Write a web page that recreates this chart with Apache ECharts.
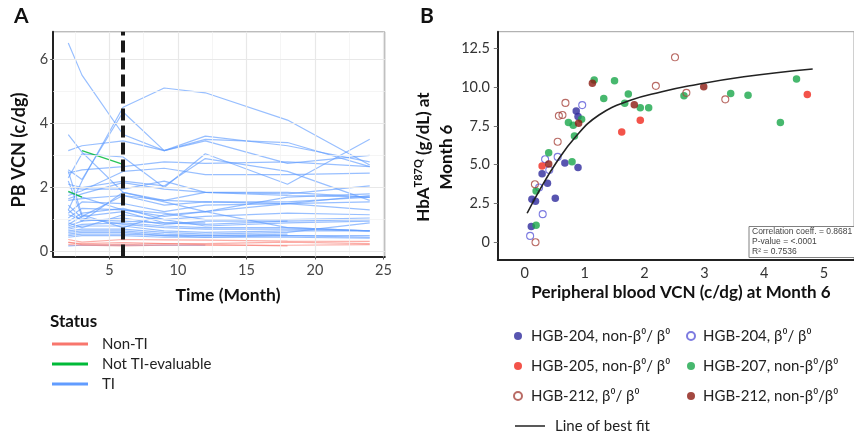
<!DOCTYPE html>
<html><head><meta charset="utf-8">
<script src="https://cdn.jsdelivr.net/npm/echarts@6/dist/echarts.min.js"></script>
<style>html,body{margin:0;padding:0;background:#fff}#c{width:854px;height:435px}</style>
</head><body><div id="c"></div>
<script>
// ---------- Panel A data ----------
const months = [2, 3, 6, 9, 12, 18, 24];
const tiLines = [
  [6.5, 5.5, 3.65, 3.15, 3.5, 3.4, 2.65],
  [1.3, 2.2, 4.5, 5.1, 4.95, 4.1, 2.7],
  [3.15, 3.3, 3.45, 3.15, 3.6, 3.3, 2.8],
  [3.65, 3.1, 1.85, 1.6, 1.85, 1.85, 1.7],
  [2.55, 2.25, 4.35, 3.15, 3.45, 2.75, 3.0],
  [2.45, 2.55, 2.65, 2.8, 2.75, 2.8, 2.65],
  [2.3, 3.05, 2.95, 2.0, 3.05, 2.1, 3.5],
  [2.1, 2.0, 2.2, 2.05, 2.9, 2.5, 1.6],
  [1.75, 1.9, 2.5, 2.6, 2.4, 2.4, 2.45],
  [1.65, 1.8, 2.15, 1.95, 1.85, 1.8, 2.05],
  [2.0, 1.95, 1.95, 2.2, 1.85, 1.75, 1.7],
  [1.6, 1.65, 1.75, 1.45, 1.55, 1.5, 1.3],
  [1.2, 1.55, 1.5, 1.25, 1.45, 1.5, 1.75],
  [1.05, 1.35, 1.3, 1.1, 1.25, 1.7, 1.8],
  [0.95, 1.2, 1.35, 1.0, 1.1, 1.2, 1.15],
  [0.85, 1.1, 1.25, 0.9, 0.85, 0.95, 1.0],
  [0.8, 0.95, 1.05, 0.85, 0.95, 0.95, null],
  [0.75, 0.85, 0.9, 0.8, 0.75, 0.75, 0.65],
  [0.7, 0.8, 0.8, 0.65, 0.6, 0.65, 0.65],
  [0.65, 0.7, 0.7, 0.6, 0.55, 0.6, 0.9],
  [0.6, 0.65, 0.65, 0.55, 0.5, 0.5, 0.5],
  [0.55, 0.6, 0.6, 0.5, 0.5, 0.55, null],
  [0.5, 0.55, 0.55, 0.5, 0.45, 0.45, 0.42],
  [1.15, 1.0, 0.95, 0.9, 0.9, null, null],
  [0.45, 0.5, 0.5, 0.45, 0.45, 0.5, 0.45],
  [0.18, 0.2, 0.2, 0.2, 0.2, null, null],
  [1.45, 1.05, 0.85, 0.75, 0.7, 0.7, 0.65],
  [2.5, 1.15, 0.75, 1.15, 1.25, 0.75, 0.65],
  [1.3, 0.95, 1.85, 1.55, 1.25, 1.5, 1.55],
  [2.2, 1.1, 1.75, 1.6, 1.55, 1.55, 1.7],
  [0.9, 0.75, 1.15, 1.0, 0.8, 0.9, 0.95],
  [1.85, 1.7, 1.3, 1.2, 1.0, 1.0, 1.05]
];
const notEvalLines = [
  [null, 3.15, 2.72, null, null, null, null],
  [1.88, 1.70, null, null, null, null, null]
];
const nonTiLines = [
  [0.38, 0.3, 0.38, 0.37, 0.36, 0.33, 0.32],
  [0.22, 0.2, 0.18, 0.2, 0.2, 0.2, 0.22],
  [0.28, 0.25, 0.28, 0.25, 0.25, 0.3, 0.25],
  [0.3, 0.22, 0.22, 0.25, 0.22, 0.18, null]
];
const statusNames = ['Non-TI', 'Not TI-evaluable', 'TI'];
const decisionMonth = 6;
const aXTicks = [5, 10, 15, 20, 25];
const aYTicks = [0, 2, 4, 6];
const aXMinor = [2.5, 7.5, 12.5, 17.5, 22.5];
const aYMinor = [1, 3, 5];

// ---------- Panel B data ----------
const bXTicks = [0, 1, 2, 3, 4, 5];
const bYTicks = [0, 2.5, 5, 7.5, 10, 12.5];
const groupNames = [
  'HGB-204, non-β⁰/ β⁰', 'HGB-204, β⁰/ β⁰',
  'HGB-205, non-β⁰/ β⁰', 'HGB-207, non-β⁰/β⁰',
  'HGB-212, β⁰/ β⁰', 'HGB-212, non-β⁰/β⁰'
];
const hgb204Non = [[0.11,1.01],[0.12,2.77],[0.18,2.64],[0.29,4.42],[0.38,3.80],[0.51,2.83],[0.67,5.11],[0.86,8.46],[0.89,8.10],[0.89,4.81]];
const hgb204B0 = [[0.09,0.41],[0.30,1.81],[0.24,3.53],[0.34,5.35],[0.41,4.66],[0.55,5.50],[0.96,8.84]];
const hgb205Non = [[0.29,4.91],[1.62,7.11],[1.93,7.87],[4.72,9.52]];
const hgb207Non = [[0.19,1.09],[0.19,3.31],[0.40,5.77],[0.79,5.19],[0.73,7.72],[0.81,7.54],[0.83,6.84],[0.95,7.92],[1.16,10.46],[1.32,9.27],[1.50,10.41],[1.67,8.96],[1.73,9.55],[1.93,8.67],[2.07,8.67],[2.66,9.45],[3.44,9.59],[3.73,9.48],[4.27,7.72],[4.54,10.52]];
const hgb212B0 = [[0.18,0.0],[0.17,3.74],[0.55,6.48],[0.57,8.15],[0.63,8.2],[0.68,8.98],[2.19,10.08],[2.51,11.92],[2.70,9.63],[3.35,9.21]];
const hgb212Non = [[0.40,5.04],[0.90,7.67],[1.13,10.24],[1.83,8.87],[2.99,10.03]];
const fitLine = [[0.04,1.87],[0.25,3.37],[0.52,5.09],[0.85,6.8],[1.24,8.2],[1.74,9.12],[2.29,9.7],[2.73,10.07],[3.66,10.67],[4.81,11.17]];
const fitName = 'Line of best fit';
const statsText = ['Correlation coeff. = 0.8681', 'P-value = <.0001', 'R² = 0.7536'];

// ---------- build ----------
const FONT = 'Lato, "Open Sans", sans-serif';
const chart = echarts.init(document.getElementById('c'), null, {renderer: 'canvas'});
const toPts = vals => months.map((m, i) => [m, vals[i]]);
const series = [];

series.push({
  type: 'line', xAxisIndex: 0, yAxisIndex: 0, data: [], z: 1, silent: true,
  markLine: {
    silent: true, symbol: ['none', 'none'], label: {show: false}, animation: false,
    data: [
      ...aXMinor.map(v => ({xAxis: v, lineStyle: {color: '#f3f3f3', width: 0.8, type: 'solid'}})),
      ...aYMinor.map(v => ({yAxis: v, lineStyle: {color: '#f3f3f3', width: 0.8, type: 'solid'}})),
      ...aXTicks.map(v => ({xAxis: v, lineStyle: {color: '#e8e8e8', width: 1.2, type: 'solid'}})),
      ...aYTicks.map(v => ({yAxis: v, lineStyle: {color: '#e8e8e8', width: 1.2, type: 'solid'}}))
    ]
  }
});
const lineBase = (name, color, vals, op) => ({
  name, type: 'line', xAxisIndex: 0, yAxisIndex: 0, data: toPts(vals),
  symbol: 'none', color, z: 2, silent: true,
  lineStyle: {width: 1.2, color, opacity: op}
});
tiLines.forEach(v => series.push(lineBase(statusNames[2], '#619CFF', v, 0.65)));
notEvalLines.forEach(v => series.push(lineBase(statusNames[1], '#00BA38', v, 0.85)));
nonTiLines.forEach(v => series.push(lineBase(statusNames[0], '#F8766D', v, 0.6)));
series.push({
  type: 'line', xAxisIndex: 0, yAxisIndex: 0, data: [], z: 5, silent: true,
  markLine: {
    silent: true, symbol: ['none', 'none'], label: {show: false}, animation: false,
    lineStyle: {color: '#1a1a1a', width: 4, type: [12, 5]},
    data: [{xAxis: decisionMonth}]
  }
});

const bColors = ['#2e2a9c', '#5c5ad8', '#f0281d', '#19a64a', '#a7463e', '#8c1a12'];
const bOpen = [false, true, false, false, true, false];
const bData = [hgb204Non, hgb204B0, hgb205Non, hgb207Non, hgb212B0, hgb212Non];
bData.forEach((d, i) => {
  series.push({
    name: groupNames[i], type: 'scatter', xAxisIndex: 1, yAxisIndex: 1, data: d,
    symbol: 'circle', symbolSize: bOpen[i] ? 7 : 7.5, z: 3,
    itemStyle: bOpen[i]
      ? {color: 'rgba(255,255,255,0)', borderColor: bColors[i], borderWidth: 1.1}
      : {color: bColors[i]}
  });
});
series.push({
  name: fitName, type: 'line', xAxisIndex: 1, yAxisIndex: 1, data: fitLine, smooth: 0.45,
  symbol: 'none', color: '#222', z: 4, lineStyle: {width: 1.6, color: '#222'}
});

const tickLabel = {fontSize: 14.5, color: '#444', fontFamily: FONT};
const legendText = pad => ({fontSize: 15, lineHeight: 18, color: '#222', fontFamily: FONT, padding: [0, 0, 0, pad]});
const option = {
  animation: false,
  backgroundColor: '#fff',
  grid: [
    {left: 53.2, top: 31.8, width: 331.6, height: 224.7, show: true, borderColor: '#a0a0a0', borderWidth: 1, backgroundColor: '#fff'},
    {left: 497.8, top: 31.7, width: 360, height: 228.4, show: true, borderColor: '#a0a0a0', borderWidth: 1}
  ],
  xAxis: [
    {gridIndex: 0, type: 'value', min: 0.9, max: 25.1,
     axisLine: {show: true, onZero: false, lineStyle: {color: '#222', width: 2}},
     axisTick: {show: true, length: 3, customValues: aXTicks, lineStyle: {color: '#555'}},
     axisLabel: Object.assign({customValues: aXTicks, margin: 6}, tickLabel),
     splitLine: {show: false}},
    {gridIndex: 1, type: 'value', min: -0.45, max: 5.5,
     axisLine: {show: true, onZero: false, lineStyle: {color: '#222', width: 2}},
     axisTick: {show: false, customValues: bXTicks},
     axisLabel: Object.assign({customValues: bXTicks, margin: 6}, tickLabel, {color: '#333'}),
     splitLine: {show: false}}
  ],
  yAxis: [
    {gridIndex: 0, type: 'value', min: -0.15, max: 6.85,
     axisLine: {show: true, onZero: false, lineStyle: {color: '#222', width: 2}},
     axisTick: {show: true, length: 3, customValues: aYTicks, lineStyle: {color: '#555'}},
     axisLabel: Object.assign({customValues: aYTicks, margin: 5}, tickLabel),
     splitLine: {show: false}},
    {gridIndex: 1, type: 'value', min: -1.15, max: 13.57,
     axisLine: {show: true, onZero: false, lineStyle: {color: '#222', width: 2}},
     axisTick: {show: true, length: 4, customValues: bYTicks, lineStyle: {color: '#777'}},
     axisLabel: Object.assign({customValues: bYTicks, margin: 8}, tickLabel, {color: '#333',
       formatter: v => v === 0 ? '0' : v.toFixed(1)}),
     splitLine: {show: false}}
  ],
  legend: [
    {left: 52, top: 335, padding: 0, orient: 'vertical', icon: 'rect', itemWidth: 36, itemHeight: 3,
     itemGap: 2, selectedMode: false, data: statusNames, textStyle: legendText(9)},
    {left: 513, top: 327, padding: 0, orient: 'vertical', itemWidth: 8, itemHeight: 8, itemGap: 12,
     selectedMode: false, data: [groupNames[0], groupNames[2], groupNames[4]], textStyle: legendText(4)},
    {left: 686, top: 327, padding: 0, orient: 'vertical', itemWidth: 8, itemHeight: 8, itemGap: 12,
     selectedMode: false, data: [groupNames[1], groupNames[3], groupNames[5]], textStyle: legendText(3)},
    {left: 515, top: 417, padding: 0, orient: 'vertical', icon: 'rect', itemWidth: 30, itemHeight: 1.5,
     selectedMode: false, data: [fitName], textStyle: legendText(5)}
  ],
  graphic: [
    {type: 'text', left: 14, top: 6, style: {text: 'A', font: 'bold 21px ' + FONT, fill: '#111'}},
    {type: 'text', left: 420, top: 6, style: {text: 'B', font: 'bold 21px ' + FONT, fill: '#111'}},
    {type: 'text', x: 19, y: 150, rotation: Math.PI / 2,
     style: {text: 'PB VCN (c/dg)', font: 'bold 18px ' + FONT, fill: '#111',
       textAlign: 'center', textVerticalAlign: 'middle', align: 'center', verticalAlign: 'middle'}},
    {type: 'text', x: 228, y: 295,
     style: {text: 'Time (Month)', font: 'bold 17.5px ' + FONT, fill: '#111',
       textAlign: 'center', textVerticalAlign: 'middle', align: 'center', verticalAlign: 'middle'}},
    {type: 'text', x: 50, y: 322,
     style: {text: 'Status', font: 'bold 17px ' + FONT, fill: '#111',
       textAlign: 'left', textVerticalAlign: 'middle', align: 'left', verticalAlign: 'middle'}},
    {type: 'text', x: 681, y: 293,
     style: {text: 'Peripheral blood VCN (c/dg) at Month 6', font: 'bold 17px ' + FONT, fill: '#111',
       textAlign: 'center', textVerticalAlign: 'middle', align: 'center', verticalAlign: 'middle'}},
    {type: 'text', x: 435.5, y: 157, rotation: Math.PI / 2,
     style: {text: '{b|HbA}{s|T87Q}{b| (g/dL) at}\n{b|Month 6}',
       textAlign: 'center', textVerticalAlign: 'middle', align: 'center', verticalAlign: 'middle',
       rich: {
         b: {fontFamily: FONT, fontWeight: 'bold', fontSize: 17, lineHeight: 23, fill: '#111', color: '#111'},
         s: {fontFamily: FONT, fontWeight: 'bold', fontSize: 11, lineHeight: 12, verticalAlign: 'top', fill: '#111', color: '#111'}
       }}},
    {type: 'rect', shape: {x: 749, y: 226.5, width: 110, height: 31}, z: 10,
     style: {fill: '#fff', stroke: '#808080', lineWidth: 1}},
    ...statsText.map((t, i) => ({type: 'text', x: 752, y: 231.8 + i * 9.8, z: 11,
     style: {text: t, font: '8.5px "Liberation Sans", Arial, sans-serif', fill: '#444',
       textAlign: 'left', textVerticalAlign: 'middle', align: 'left', verticalAlign: 'middle'}}))
  ],
  series
};
chart.setOption(option);
</script>
</body></html>
